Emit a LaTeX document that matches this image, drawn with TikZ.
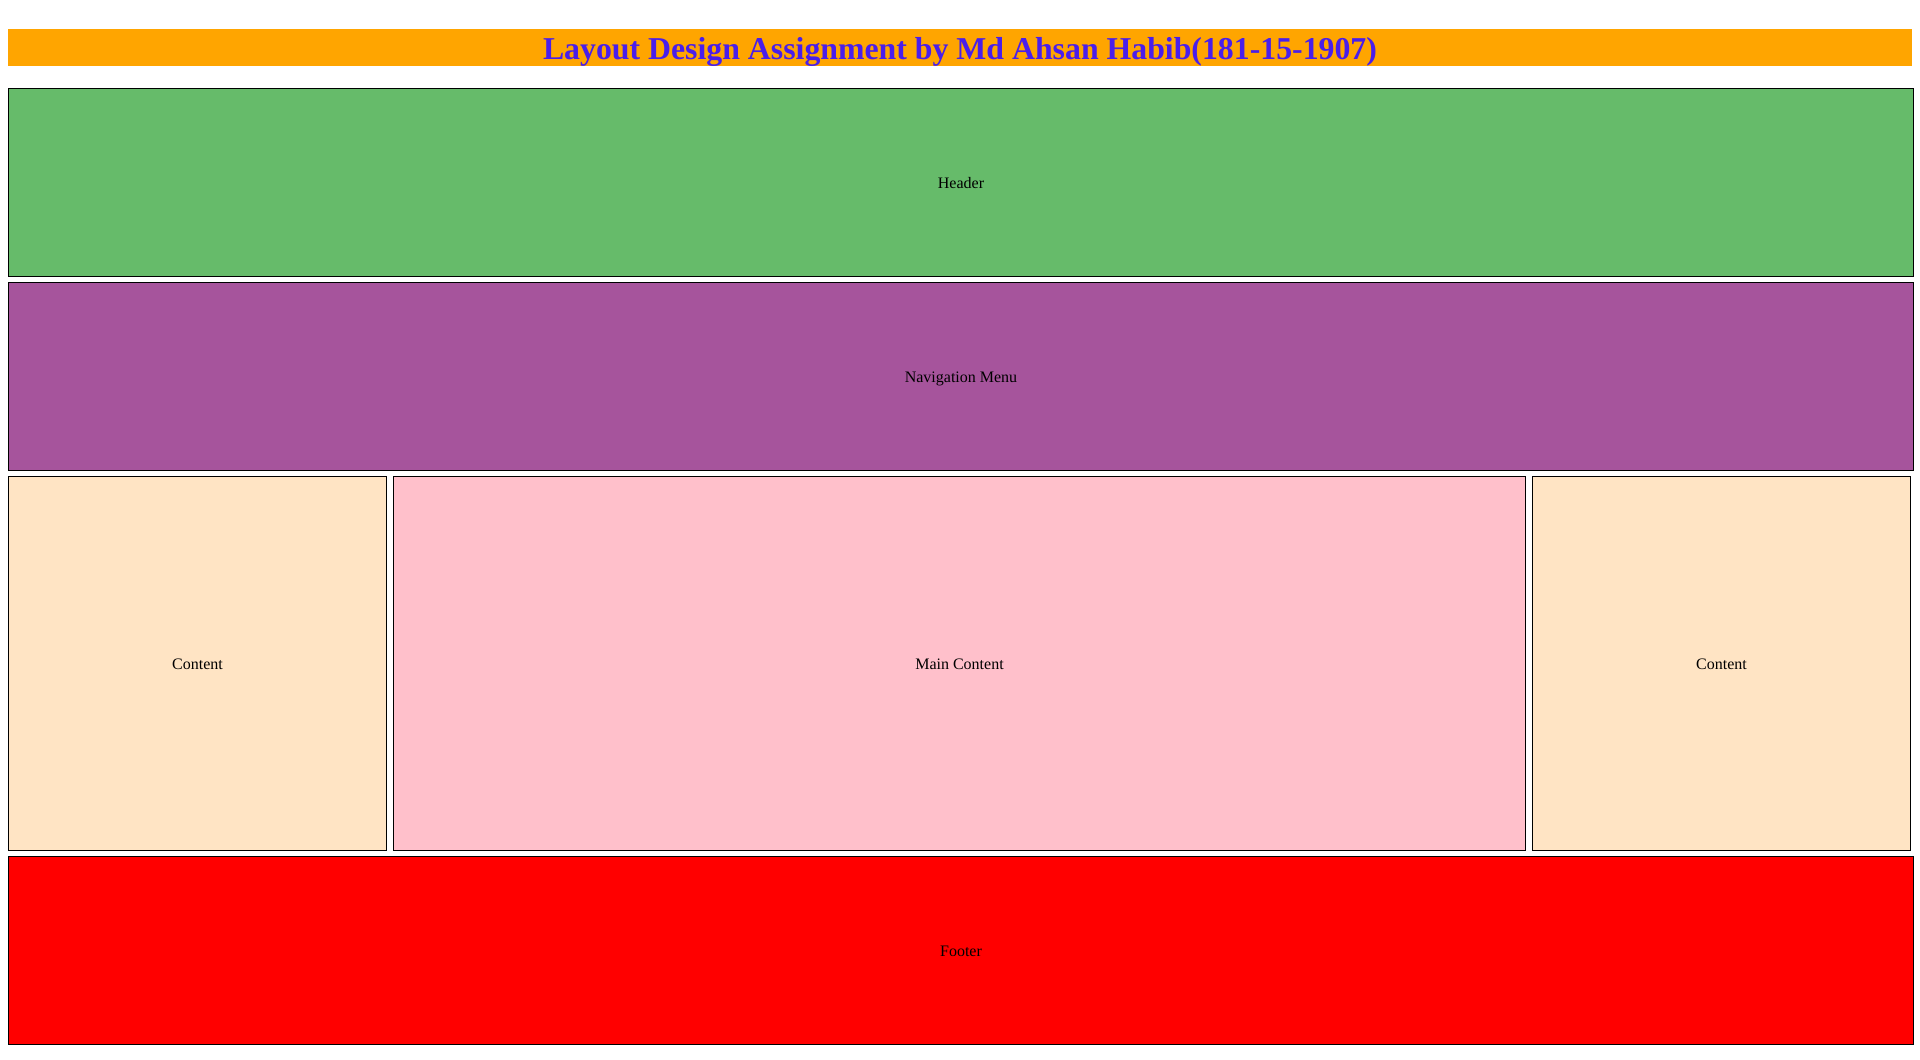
\documentclass[tikz,border=0pt]{standalone}
\usepackage{fontspec}
\setmainfont{Liberation Serif}
\usetikzlibrary{positioning}
\definecolor{Bar}{HTML}{FFA500}
\definecolor{Ink}{HTML}{4A1EEA}
\definecolor{Leaf}{HTML}{66BB6A}
\definecolor{Plum}{HTML}{A6549C}
\definecolor{Bisque}{HTML}{FFE4C4}
\definecolor{Rose}{HTML}{FFC0CB}
\definecolor{Alarm}{HTML}{FF0000}
\tikzset{
  panel/.style={draw=black,line width=0.5pt,inner sep=0pt,outer sep=0pt,anchor=north west,
    font=\fontsize{8}{10}\selectfont},
  titlebar/.style={fill=Bar,inner sep=0pt,outer sep=0pt,anchor=north west,
    minimum width=952pt,minimum height=18.5pt}
}
\begin{document}
\begin{tikzpicture}[x=0.5pt,y=-0.5pt]
  \useasboundingbox[fill=white] (0,0) rectangle (1920,1059);
  \node[titlebar] (bar) at (8,29) {};
  \node[anchor=base,text=Ink,font=\fontsize{15.9}{19}\selectfont\bfseries,inner sep=0pt] (title) at (960,59.5)
    {Layout Design Assignment by Md Ahsan Habib(181-15-1907)};
  \foreach \name/\x/\y/\w/\h/\col/\txt in {
      header/8.5/88.5/1905/188/Leaf/Header,
      nav/8.5/282.5/1905/188/Plum/Navigation Menu,
      left/8.5/476.5/378/374/Bisque/Content,
      main/393.5/476.5/1132/374/Rose/Main Content,
      right/1532.5/476.5/378/374/Bisque/Content,
      footer/8.5/856.5/1905/188/Alarm/Footer}{
    \node[panel,fill=\col,minimum width=\w*0.5pt,minimum height=\h*0.5pt,text depth=0pt,
      yshift=0pt] (\name) at (\x,\y) {\raisebox{-0.6pt}{\txt}};}
\end{tikzpicture}
\end{document}
